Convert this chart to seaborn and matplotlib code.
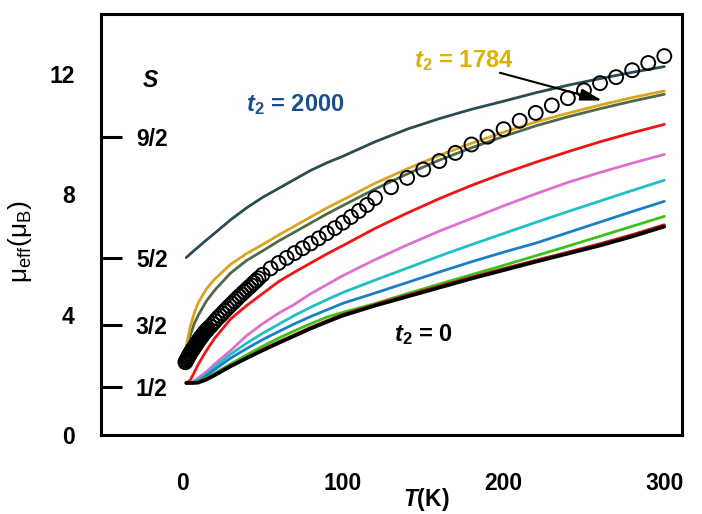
import matplotlib
matplotlib.use('Agg')
import matplotlib.pyplot as plt
import pandas as pd
import seaborn as sns

# temperature grid of the calculated curves (K)
T_fit = [2.5, 5, 7.5, 10, 15, 20, 30, 40, 50, 60, 70, 80, 90, 100,
         120, 140, 160, 180, 200, 220, 240, 260, 280, 300]

# calculated mu_eff curves, one list per t2 value (top to bottom)
mu_2000 = [5.9, 6.02, 6.14, 6.25, 6.48, 6.7, 7.15, 7.55, 7.9, 8.2, 8.5, 8.8, 9.05, 9.27,
           9.75, 10.17, 10.52, 10.83, 11.1, 11.38, 11.63, 11.85, 12.06, 12.25]
mu_1784 = [2.95, 3.6, 4.05, 4.4, 4.85, 5.17, 5.67, 6.03, 6.33, 6.65, 6.95, 7.25, 7.55, 7.82,
           8.37, 8.85, 9.3, 9.7, 10.07, 10.41, 10.7, 10.97, 11.22, 11.44]
mu_olive = [2.75, 3.3, 3.7, 3.98, 4.45, 4.8, 5.38, 5.8, 6.12, 6.45, 6.75, 7.05, 7.35, 7.63,
            8.18, 8.68, 9.14, 9.55, 9.93, 10.28, 10.58, 10.85, 11.1, 11.33]
mu_red = [1.73, 1.82, 2.08, 2.35, 2.8, 3.2, 3.85, 4.3, 4.7, 5.1, 5.42, 5.72, 6.02, 6.3,
          6.87, 7.38, 7.86, 8.3, 8.7, 9.07, 9.42, 9.75, 10.05, 10.33]
mu_pink = [1.73, 1.75, 1.8, 1.9, 2.1, 2.35, 2.8, 3.3, 3.7, 4.05, 4.35, 4.7, 5.0, 5.3,
           5.83, 6.32, 6.78, 7.2, 7.62, 8.02, 8.4, 8.73, 9.04, 9.33]
mu_cyan = [1.73, 1.74, 1.77, 1.83, 2.02, 2.25, 2.68, 3.05, 3.38, 3.68, 3.98, 4.25, 4.5, 4.74,
           5.15, 5.55, 5.95, 6.33, 6.7, 7.07, 7.43, 7.78, 8.13, 8.47]
mu_blue = [1.73, 1.73, 1.75, 1.8, 1.97, 2.17, 2.55, 2.87, 3.17, 3.44, 3.7, 3.94, 4.16, 4.38,
           4.72, 5.07, 5.42, 5.76, 6.08, 6.38, 6.73, 7.08, 7.43, 7.77]
mu_green = [1.73, 1.73, 1.74, 1.77, 1.9, 2.05, 2.36, 2.66, 2.95, 3.22, 3.47, 3.7, 3.92, 4.08,
            4.37, 4.7, 5.02, 5.33, 5.64, 5.96, 6.28, 6.61, 6.94, 7.27]
mu_dred = [1.73, 1.73, 1.74, 1.76, 1.87, 2.01, 2.31, 2.58, 2.85, 3.1, 3.34, 3.58, 3.8, 4.01,
           4.34, 4.65, 4.95, 5.25, 5.53, 5.81, 6.08, 6.36, 6.66, 6.99]
mu_0 = [1.73, 1.73, 1.73, 1.74, 1.84, 1.98, 2.28, 2.55, 2.81, 3.06, 3.3, 3.54, 3.76, 3.97,
        4.3, 4.6, 4.9, 5.2, 5.48, 5.76, 6.03, 6.3, 6.6, 6.93]

# measured data (open circles)
T_obs = [2, 2.5, 3, 3.5, 4, 4.5, 5, 5.5, 6, 6.5, 7, 7.5, 8, 8.5, 9, 9.5, 10, 10.5, 11, 11.5,
         12, 12.5, 13, 13.5, 14, 14.5, 15, 15.5, 16, 17.5, 19, 20.5, 22, 23.5, 25, 26.5,
         28, 29.5, 31, 32.5, 34, 35.5, 37, 38.5, 40, 41.5, 43, 44.5, 46, 47.5,
         50, 55, 60, 65, 70, 75, 80, 85, 90, 95, 100, 105, 110, 115, 120,
         130, 140, 150, 160, 170, 180, 190, 200, 210, 220, 230, 240, 250, 260, 270, 280,
         290, 300]
mu_obs = [2.42, 2.47, 2.52, 2.57, 2.62, 2.67, 2.71, 2.76, 2.8, 2.84, 2.88, 2.92, 2.96, 3.0,
          3.04, 3.08, 3.12, 3.16, 3.2, 3.24, 3.27, 3.31, 3.34, 3.38, 3.41, 3.44, 3.47, 3.5,
          3.53, 3.61, 3.7, 3.79, 3.88, 3.96, 4.04, 4.13, 4.21, 4.29, 4.37, 4.45, 4.53, 4.61,
          4.68, 4.76, 4.83, 4.91, 4.98, 5.06, 5.13, 5.21,
          5.33, 5.54, 5.72, 5.89, 6.05, 6.21, 6.37, 6.54, 6.71, 6.88, 7.06, 7.25, 7.45, 7.65,
          7.88, 8.24, 8.55, 8.83, 9.11, 9.38, 9.66, 9.92, 10.17, 10.45, 10.71, 10.96, 11.2,
          11.46, 11.7, 11.9, 12.13, 12.37, 12.6]

# spin levels marked on the left axis
S_pos = [1.6, 3.65, 5.9, 9.9]
S_labels = ['1/2', '3/2', '5/2', '9/2']

curve_names = ['2000', 'olive', '1784', 'red', 'pink', 'cyan', 'blue', 'green', 'dred', '0']
curve_colors = {'2000': '#2b4c50', 'olive': '#4f6a48', '1784': '#d9a520', 'red': '#f01414',
                'pink': '#e070d0', 'cyan': '#1fbfc4', 'blue': '#1a7fc4', 'green': '#3cc21a',
                'dred': '#c01010', '0': 'black'}

sns.set_style('white')
plt.rcParams['font.family'] = ['Liberation Sans', 'DejaVu Sans']
plt.rcParams['font.weight'] = 'bold'
plt.rcParams['text.color'] = 'black'
plt.rcParams['axes.labelcolor'] = 'black'
plt.rcParams['xtick.color'] = 'black'
plt.rcParams['ytick.color'] = 'black'
plt.rcParams['mathtext.fontset'] = 'custom'
plt.rcParams['mathtext.rm'] = 'Liberation Sans:weight=normal'
plt.rcParams['mathtext.it'] = 'Liberation Sans:italic'
plt.rcParams['mathtext.bf'] = 'Liberation Sans:bold'
plt.rcParams['mathtext.bfit'] = 'Liberation Sans:italic:bold'

df = pd.DataFrame({'T': T_fit, '2000': mu_2000, 'olive': mu_olive, '1784': mu_1784,
                   'red': mu_red, 'pink': mu_pink, 'cyan': mu_cyan, 'blue': mu_blue,
                   'green': mu_green, 'dred': mu_dred, '0': mu_0})
df_long = df.melt(id_vars='T', var_name='t2', value_name='mu')

fig, ax = plt.subplots(figsize=(7.02, 5.14), dpi=100)
fig.subplots_adjust(left=0.1439, right=0.9715, bottom=0.1537, top=0.9728)

sns.lineplot(data=df_long, x='T', y='mu', hue='t2', hue_order=curve_names,
             palette=curve_colors, linewidth=2.0, legend=False, ax=ax)
ax.lines[-1].set_linewidth(2.6)

sns.scatterplot(x=T_obs, y=mu_obs, marker='o', s=100, linewidth=1.4, ax=ax, zorder=5)
ax.collections[-1].set_facecolor('none')
ax.collections[-1].set_edgecolor('black')

ax.set_xlim(-50.5, 311)
ax.set_ylim(0, 14)
ax.set_xticks([0, 100, 200, 300])
ax.set_xticks([-50, 50, 150, 250], minor=True)
ax.set_yticks([0, 4, 8, 12])
ax.set_yticks([2, 6, 10], minor=True)
ax.tick_params(which='both', direction='out', length=5, width=2.2, labelsize=16.5)
ax.tick_params(axis='x', which='major', pad=22)
ax.tick_params(axis='y', which='major', pad=14)
for sp in ax.spines.values():
    sp.set_linewidth(2.2)
    sp.set_color('black')

ax.set_xlabel(r'$\mathbfit{T}$(K)', fontsize=16.5, fontweight='bold')
ax.xaxis.set_label_coords(0.56, -0.121)
ax.set_ylabel(r'$\mathrm{μ}_{\mathrm{eff}}(\mathrm{μ}_{\mathrm{B}})$', fontsize=19,
              fontweight='normal')
ax.yaxis.set_label_coords(-0.115, 0.46)

# S levels as inward ticks on the left spine
sec = ax.secondary_yaxis('left')
sec.set_ticks(S_pos, labels=S_labels)
sec.tick_params(axis='y', direction='in', length=15, width=2.2, pad=-48, labelsize=16.5)
sec.spines['left'].set_visible(False)
ax.text(-20, 11.8, 'S', fontsize=16.5, fontweight='bold', fontstyle='italic',
        ha='center', va='center')

ax.text(40, 11.0, r'$\mathbfit{t}_{\mathbf{2}}$ = 2000', color='#1b4f8a', fontsize=17,
        fontweight='bold', va='center', ha='left')
ax.text(144, 12.45, r'$\mathbfit{t}_{\mathbf{2}}$ = 1784', color='#dcb200', fontsize=17,
        fontweight='bold', va='center', ha='left')
ax.text(132, 3.35, r'$\mathbfit{t}_{\mathbf{2}}$ = 0', color='black', fontsize=17,
        fontweight='bold', va='center', ha='left')
ax.annotate('', xy=(263, 11.1), xytext=(196, 12.07),
            arrowprops=dict(arrowstyle='-|>,head_length=0.65,head_width=0.18',
                            color='black', lw=1.5, mutation_scale=20))

fig.savefig('out.png', dpi=100)
